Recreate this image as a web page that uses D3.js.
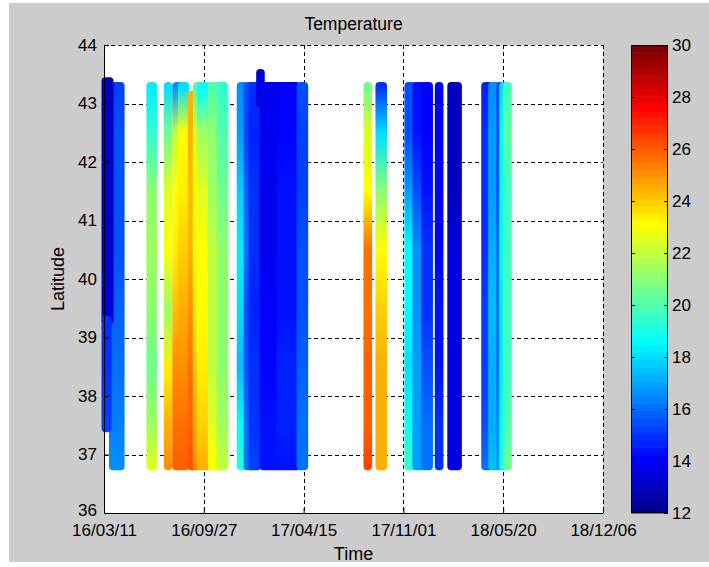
<!DOCTYPE html>
<html>
<head>
<meta charset="utf-8">
<script src="https://cdn.jsdelivr.net/npm/d3@7"></script>
<style>
  body { margin: 0; background: #fff; }
  svg { display: block; font-family: Arial, "Liberation Sans", Helvetica, sans-serif; }
</style>
</head>
<body>
<div id="chart"></div>
<script>
// latitudes (deg N) at which the temperature of each stripe was read
const sampleLats = [43.3, 42.5, 41.5, 40.5, 39.5, 38.5, 37.5, 36.8];

// one entry per vertical stripe of scatter points (a cruise, or a run of cruises)
const trackStart  = ["2016-03-29","2016-03-14","2016-03-14","2016-06-12","2016-07-17",
                     "2016-08-03","2016-08-14","2016-09-03","2016-09-13","2016-09-21","2016-10-13","2016-10-31",
                     "2016-12-10","2016-12-24","2017-01-03","2017-01-18","2017-01-25","2017-02-28","2017-04-09",
                     "2017-08-21","2017-09-14",
                     "2017-11-11","2017-11-27","2017-12-15","2018-01-11","2018-02-05",
                     "2018-04-14","2018-04-28","2018-05-14","2018-05-20","2018-05-28"];
const trackEnd    = ["2016-04-12","2016-03-21","2016-03-17","2016-06-16","2016-07-17",
                     "2016-08-10","2016-08-20","2016-09-07","2016-09-13","2016-10-03","2016-10-25","2016-11-06",
                     "2016-12-14","2016-12-30","2017-01-11","2017-01-18","2017-02-24","2017-03-30","2017-04-15",
                     "2017-08-21","2017-09-20",
                     "2017-11-17","2017-12-07","2017-12-21","2018-01-11","2018-02-17",
                     "2018-04-20","2018-05-08","2018-05-14","2018-05-24","2018-05-28"];
const trackTop    = [43.3, 43.38, 39.3, 43.3, 43.3,
                     43.3, 43.3, 43.15, 43.3, 43.3, 43.3, 43.3,
                     43.3, 43.3, 43.3, 43.52, 43.3, 43.3, 43.3,
                     43.3, 43.3,
                     43.3, 43.3, 43.3, 43.3, 43.3,
                     43.3, 43.3, 43.3, 43.3, 43.3];
const trackBottom = [36.8, 39.3, 37.45, 36.8, 36.8,
                     36.8, 36.8, 36.8, 36.8, 36.8, 36.8, 36.8,
                     36.8, 36.8, 36.8, 43.0, 36.8, 36.8, 36.8,
                     36.8, 36.8,
                     36.8, 36.8, 36.8, 36.8, 36.8,
                     36.8, 36.8, 36.8, 36.8, 36.8];
// temperature (deg C) at each of sampleLats, per stripe
const trackTemps = [
  [15.2, 15.4, 15.5, 15.5, 15.7, 16.0, 16.3, 16.5],
  [13.0, 13.2, 13.3, 13.4, 13.5, 13.5, 13.5, 13.5],
  [15.0, 15.0, 15.0, 15.0, 15.0, 15.0, 15.2, 15.2],
  [18.3, 19.5, 21.0, 21.3, 21.0, 20.5, 21.5, 22.5],
  [18.0, 20.5, 22.5, 23.0, 21.5, 23.5, 24.5, 25.0],
  [16.5, 22.0, 23.0, 23.5, 24.2, 25.0, 25.5, 26.0],
  [18.0, 23.0, 23.5, 24.0, 24.5, 25.0, 25.5, 26.0],
  [24.5, 24.5, 24.3, 24.5, 25.0, 25.5, 25.8, 26.2],
  [20.0, 22.5, 23.0, 23.0, 23.5, 24.0, 24.5, 25.0],
  [18.5, 21.5, 22.5, 23.0, 23.0, 23.5, 24.0, 24.5],
  [20.0, 21.0, 21.5, 22.0, 22.0, 22.0, 22.5, 23.0],
  [19.5, 20.0, 20.5, 21.0, 21.0, 21.0, 21.5, 22.0],
  [16.5, 17.0, 17.8, 18.2, 18.0, 17.5, 18.5, 19.2],
  [15.5, 15.3, 15.8, 16.0, 15.5, 15.5, 16.0, 16.0],
  [15.0, 14.8, 15.0, 15.0, 14.8, 15.0, 15.0, 15.3],
  [13.5, 13.5, 13.5, 13.5, 13.5, 13.5, 13.5, 13.5],
  [13.8, 13.8, 13.8, 13.8, 14.0, 14.2, 14.3, 14.3],
  [14.0, 14.0, 14.3, 14.3, 14.5, 14.8, 14.8, 14.5],
  [15.5, 15.3, 15.3, 15.5, 15.5, 15.8, 16.0, 16.2],
  [20.5, 22.5, 23.0, 25.5, 25.7, 26.0, 26.0, 26.5],
  [15.0, 18.0, 21.0, 23.0, 24.0, 24.5, 24.5, 24.5],
  [15.5, 15.5, 17.0, 18.5, 18.5, 18.0, 19.0, 19.5],
  [14.5, 14.5, 15.5, 16.5, 16.5, 17.0, 17.0, 17.0],
  [14.0, 14.0, 14.5, 15.0, 15.0, 15.5, 16.0, 16.0],
  [14.0, 14.0, 14.0, 14.0, 14.5, 14.5, 15.0, 15.0],
  [13.0, 13.0, 13.0, 13.5, 13.5, 13.5, 13.5, 13.5],
  [14.8, 15.0, 15.0, 15.0, 15.2, 15.2, 15.5, 16.0],
  [16.5, 16.8, 17.0, 17.2, 17.5, 17.2, 17.2, 17.5],
  [15.5, 15.5, 15.5, 16.0, 16.0, 16.0, 16.5, 17.0],
  [18.0, 18.5, 18.5, 18.5, 18.3, 18.3, 18.5, 19.0],
  [19.8, 20.2, 19.8, 19.8, 19.8, 19.8, 20.0, 20.5]
];

const xTicks = ["2016-03-11","2016-09-27","2017-04-15","2017-11-01","2018-05-20","2018-12-06"];
const yTicks = [36, 37, 38, 39, 40, 41, 42, 43, 44];
const cTicks = [12, 14, 16, 18, 20, 22, 24, 26, 28, 30];

var W = 709, H = 567;
var plot = {left: 104, right: 603, top: 45, bottom: 513};
var cbar = {left: 631, right: 668};
var r = 4; // marker radius

var parse = d3.utcParse("%Y-%m-%d");

var svg = d3.select("#chart").append("svg").attr("width", W).attr("height", H);

// figure background
svg.append("rect").attr("width", W).attr("height", H).attr("fill", "#fff");
svg.append("rect").attr("x", 9).attr("y", 3).attr("width", W - 9).attr("height", H - 8).attr("fill", "#cccccc");

var x = d3.scaleUtc().domain([parse(xTicks[0]), parse(xTicks[xTicks.length - 1])]).range([plot.left, plot.right]);
var y = d3.scaleLinear().domain([36, 44]).range([plot.bottom, plot.top]);

// MATLAB jet(64)
function jet(i) {
  var t = (i + 1) / 64;
  var c = function(v) { return Math.round(255 * Math.max(0, Math.min(1, v))); };
  return d3.rgb(c(Math.min(4*t - 1.5, -4*t + 4.5)), c(Math.min(4*t - 0.5, -4*t + 3.5)), c(Math.min(4*t + 0.5, -4*t + 2.5))).formatHex();
}
var color = d3.scaleQuantize().domain([12, 30]).range(d3.range(64).map(jet));

svg.append("rect").attr("x", plot.left).attr("y", plot.top)
  .attr("width", plot.right - plot.left).attr("height", plot.bottom - plot.top).attr("fill", "#fff");

// grid (under the data, like the original)
var grid = svg.append("g").attr("stroke", "#000").attr("stroke-dasharray", "4,3").attr("stroke-width", 1);
grid.selectAll(".gx").data(xTicks.slice(1)).enter().append("line")
  .attr("x1", d => Math.round(x(parse(d))) + 0.5).attr("x2", d => Math.round(x(parse(d))) + 0.5)
  .attr("y1", plot.top).attr("y2", plot.bottom);
grid.selectAll(".gy").data(yTicks.slice(1)).enter().append("line")
  .attr("y1", d => Math.round(y(d)) + 0.5).attr("y2", d => Math.round(y(d)) + 0.5)
  .attr("x1", plot.left).attr("x2", plot.right);

// stripes
var defs = svg.append("defs");
var tracks = trackStart.map(function(s, i) {
  return {start: parse(s), end: parse(trackEnd[i]), top: trackTop[i], bottom: trackBottom[i], temps: trackTemps[i]};
});
tracks.forEach(function(t, i) {
  var y0 = y(t.top) - r, y1 = y(t.bottom) + r;
  var g = defs.append("linearGradient").attr("id", "trk" + i)
    .attr("gradientUnits", "userSpaceOnUse").attr("x1", 0).attr("x2", 0).attr("y1", y0).attr("y2", y1);
  var first = true;
  sampleLats.forEach(function(lat, j) {
    if (lat > t.top + 0.01 || lat < t.bottom - 0.01) return;
    if (first && lat < t.top - 0.01) g.append("stop").attr("offset", 0).attr("stop-color", color(t.temps[j]));
    first = false;
    g.append("stop").attr("offset", (y(lat) - y0) / (y1 - y0)).attr("stop-color", color(t.temps[j]));
  });
  if (first) g.append("stop").attr("offset", 0).attr("stop-color", color(t.temps[0]));
});
svg.append("g").selectAll("rect").data(tracks).enter().append("rect")
  .attr("x", d => x(d.start) - r)
  .attr("width", d => x(d.end) - x(d.start) + 2 * r + 0.6)
  .attr("y", d => y(d.top) - r)
  .attr("height", d => y(d.bottom) - y(d.top) + 2 * r)
  .attr("rx", r).attr("ry", r)
  .attr("fill", (d, i) => "url(#trk" + i + ")");

// axes
var fs = "17px";
var xAxis = d3.axisBottom(x).tickValues(xTicks.map(parse)).tickFormat(d3.utcFormat("%y/%m/%d"))
  .tickSizeInner(-5).tickSizeOuter(0).tickPadding(11);
var gx = svg.append("g").attr("transform", "translate(0," + plot.bottom + ")").call(xAxis);
var yAxis = d3.axisLeft(y).tickValues(yTicks).tickFormat(d3.format("d"))
  .tickSizeInner(-5).tickSizeOuter(0).tickPadding(7);
var gy = svg.append("g").attr("transform", "translate(" + plot.left + ",0)").call(yAxis);
[gx, gy].forEach(function(g) {
  g.attr("font-family", null);
  g.select(".domain").attr("stroke", "#000");
  g.selectAll(".tick line").attr("stroke", "#000");
  g.selectAll("text").attr("fill", "#000").style("font-size", fs);
});
gy.selectAll(".tick text").filter(d => d === 36).attr("y", -3);

// labels
svg.append("text").attr("x", (plot.left + plot.right) / 2).attr("y", 30).attr("text-anchor", "middle")
  .style("font-size", "17.5px").text("Temperature");
svg.append("text").attr("x", (plot.left + plot.right) / 2).attr("y", 560).attr("text-anchor", "middle")
  .style("font-size", "18px").text("Time");
svg.append("text").attr("transform", "translate(64," + (plot.top + plot.bottom) / 2 + ") rotate(-90)")
  .attr("text-anchor", "middle").style("font-size", "18px").text("Latitude");

// colorbar
var cy = d3.scaleLinear().domain([12, 30]).range([plot.bottom, plot.top]);
var levels = d3.range(64).map(i => 12 + i * 18 / 64);
svg.append("g").selectAll("rect").data(levels).enter().append("rect")
  .attr("x", cbar.left).attr("width", cbar.right - cbar.left)
  .attr("y", d => cy(d + 18 / 64)).attr("height", d => cy(d) - cy(d + 18 / 64) + 0.5)
  .attr("fill", d => color(d + 0.01));
svg.append("rect").attr("x", cbar.left + 0.5).attr("y", plot.top + 0.5)
  .attr("width", cbar.right - cbar.left - 1).attr("height", plot.bottom - plot.top - 1)
  .attr("fill", "none").attr("stroke", "#000");
var cAxis = d3.axisRight(cy).tickValues(cTicks).tickSizeInner(-4).tickSizeOuter(0).tickPadding(4);
var gc = svg.append("g").attr("transform", "translate(" + cbar.right + ",0)").call(cAxis);
gc.attr("font-family", null);
gc.select(".domain").remove();
gc.selectAll(".tick line").attr("stroke", "#000");
gc.selectAll("text").attr("fill", "#000").style("font-size", fs);
var gc2 = svg.append("g").attr("transform", "translate(" + cbar.left + ",0)")
  .call(d3.axisLeft(cy).tickValues(cTicks.slice(1, -1)).tickSizeInner(-4).tickSizeOuter(0).tickFormat(""));
gc2.select(".domain").remove();
gc2.selectAll(".tick line").attr("stroke", "#000");
</script>
</body>
</html>
